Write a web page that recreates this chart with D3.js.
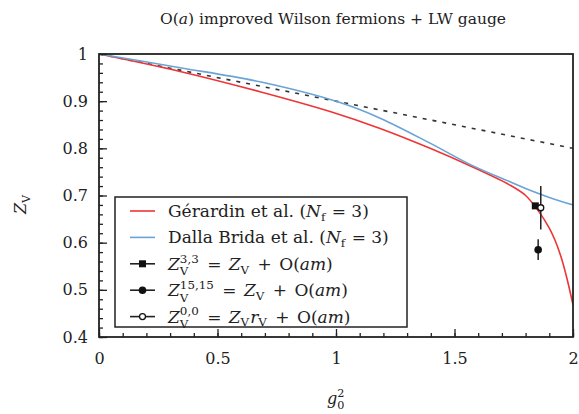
<!DOCTYPE html>
<html>
<head>
<meta charset="utf-8">
<script src="https://cdn.jsdelivr.net/npm/d3@7"></script>
<style>
  body { margin: 0; background: #fff; }
  svg text { font-family: "DejaVu Serif", "Liberation Serif", serif; fill: #222; white-space: pre; }
</style>
</head>
<body>
<div id="chart"></div>
<script>
// Gérardin et al. (red)
var redG = [0, 0.342, 0.679, 0.975, 1.186, 1.397, 1.565, 1.734, 1.8, 1.85, 1.9, 1.925, 1.95, 1.975, 2.0];
var redZ = [1, 0.963, 0.920, 0.878, 0.842, 0.800, 0.763, 0.722, 0.700, 0.670, 0.631, 0.604, 0.569, 0.523, 0.468];
// Dalla Brida et al. (blue)
var blueG = [0, 0.342, 0.679, 1.017, 1.186, 1.397, 1.565, 1.734, 1.8, 1.9, 2.0];
var blueZ = [1, 0.971, 0.941, 0.897, 0.864, 0.811, 0.766, 0.729, 0.715, 0.696, 0.680];
// one-loop (dashed)
var dashG = [0, 2];
var dashZ = [1, 0.8];
// data points
var ptNames = ["Z33", "Z1515", "Z00"];
var ptG = [1.841, 1.853, 1.864];
var ptZ = [0.678, 0.585, 0.674];
var ptErr = [0.004, 0.022, 0.046];

var xTicks = [0, 0.5, 1, 1.5, 2];
var yTicks = [0.4, 0.5, 0.6, 0.7, 0.8, 0.9, 1];

var W = 579, H = 414;
var margin = {top: 54, right: 6, bottom: 77, left: 99};
var width = W - margin.left - margin.right,
    height = H - margin.top - margin.bottom;
var FONT = "DejaVu Serif, Liberation Serif, serif";

var svg = d3.select("#chart").append("svg")
  .attr("width", W).attr("height", H).attr("font-family", FONT);

var x = d3.scaleLinear().domain([0, 2]).range([margin.left, margin.left + width]);
var y = d3.scaleLinear().domain([0.4, 1]).range([margin.top + height, margin.top]);

// title
svg.append("text").attr("x", 333).attr("y", 24).attr("text-anchor", "middle")
  .style("font-size", "15.5px")
  .call(function(t) {
    t.append("tspan").text("O(");
    t.append("tspan").style("font-style", "italic").text("a");
    t.append("tspan").text(") improved Wilson fermions + LW gauge");
  });

svg.append("clipPath").attr("id", "clip").append("rect")
  .attr("x", margin.left).attr("y", margin.top).attr("width", width).attr("height", height);

var plot = svg.append("g").attr("clip-path", "url(#clip)");

var line = d3.line().x(function(d) { return x(d[0]); }).y(function(d) { return y(d[1]); })
  .curve(d3.curveCatmullRom.alpha(0.5));

plot.append("path").datum(d3.zip(dashG, dashZ))
  .attr("fill", "none").attr("stroke", "#333").attr("stroke-width", 1.6)
  .attr("stroke-dasharray", "4,6").attr("d", line);
plot.append("path").datum(d3.zip(redG, redZ))
  .attr("fill", "none").attr("stroke", "#ee3535").attr("stroke-width", 1.6).attr("d", line);
plot.append("path").datum(d3.zip(blueG, blueZ))
  .attr("fill", "none").attr("stroke", "#6aa3d5").attr("stroke-width", 1.6).attr("d", line);

// error bars and markers
var pts = d3.range(ptG.length).map(function(i) {
  return {name: ptNames[i], g: ptG[i], z: ptZ[i], e: ptErr[i]};
});
plot.selectAll(".err").data(pts).enter().append("line")
  .attr("x1", function(d) { return x(d.g); }).attr("x2", function(d) { return x(d.g); })
  .attr("y1", function(d) { return y(d.z - d.e); }).attr("y2", function(d) { return y(d.z + d.e); })
  .attr("stroke", "#222").attr("stroke-width", 1.5);

function marker(g, name, cx, cy) {
  if (name === "Z33") {
    g.append("rect").attr("x", cx - 3.5).attr("y", cy - 3.5).attr("width", 7).attr("height", 7).attr("fill", "#111");
  } else if (name === "Z1515") {
    g.append("circle").attr("cx", cx).attr("cy", cy).attr("r", 3.8).attr("fill", "#111");
  } else {
    g.append("circle").attr("cx", cx).attr("cy", cy).attr("r", 3).attr("fill", "#fff")
      .attr("stroke", "#111").attr("stroke-width", 1.3);
  }
}
pts.forEach(function(d) { marker(plot, d.name, x(d.g), y(d.z)); });

// axes
svg.append("g").attr("transform", "translate(0," + (margin.top + height) + ")")
  .call(d3.axisBottom(x).tickValues(xTicks).tickSize(-8).tickPadding(16)
    .tickFormat(function(d) { return String(d); }));
svg.append("g").attr("transform", "translate(0," + (margin.top + height) + ")")
  .call(d3.axisBottom(x).tickValues(d3.range(0, 2.0001, 0.1)).tickSize(-4).tickFormat(""));
svg.append("g").attr("transform", "translate(" + margin.left + ",0)")
  .call(d3.axisLeft(y).tickValues(yTicks).tickSize(-8).tickPadding(11)
    .tickFormat(function(d) { return d === 1 ? "1" : d.toFixed(1); }));
svg.append("g").attr("transform", "translate(" + margin.left + ",0)")
  .call(d3.axisLeft(y).tickValues(d3.range(0.4, 1.0001, 0.02)).tickSize(-4).tickFormat(""));

svg.selectAll(".domain").remove();
svg.selectAll("g").filter(function() { return this.hasAttribute("font-family"); }).attr("font-family", FONT);
svg.selectAll(".tick line").attr("stroke", "#222").attr("stroke-width", 1.3);
svg.selectAll(".tick text").style("font-size", "16px").attr("fill", "#222");

svg.append("rect").attr("x", margin.left).attr("y", margin.top)
  .attr("width", width).attr("height", height)
  .attr("fill", "none").attr("stroke", "#222").attr("stroke-width", 1.8);

// math-like text helper
function mathRow(g, x0, y0, segs, fs) {
  var cx = x0;
  segs.forEach(function(s) {
    if (s.sp !== undefined) {
      cx += s.sp;
    } else if (s.sup !== undefined || s.sub !== undefined) {
      var w = 0;
      if (s.sup !== undefined) {
        var a = g.append("text").attr("x", cx).attr("y", y0 - fs * 0.42)
          .style("font-size", (fs * 0.7) + "px").text(s.sup);
        w = Math.max(w, a.node().getComputedTextLength());
      }
      if (s.sub !== undefined) {
        var b = g.append("text").attr("x", cx).attr("y", y0 + fs * (s.sup !== undefined ? 0.32 : 0.22))
          .style("font-size", (fs * 0.7) + "px").text(s.sub);
        w = Math.max(w, b.node().getComputedTextLength());
      }
      cx += w + 1;
    } else {
      var t = g.append("text").attr("x", cx).attr("y", y0).style("font-size", fs + "px")
        .style("font-style", s.i ? "italic" : "normal").text(s.t);
      cx += t.node().getComputedTextLength();
    }
  });
  return cx;
}

// y and x labels
var yl = svg.append("g").attr("transform", "translate(26,206) rotate(-90)");
mathRow(yl, -8, 0, [{t: "Z", i: true}, {sub: "V"}], 16);
var xl = svg.append("g");
mathRow(xl, 327, 404, [{t: "g", i: true}, {sup: "2", sub: "0"}], 16);

// legend
var leg = svg.append("g");
leg.append("rect").attr("x", 115).attr("y", 197).attr("width", 292).attr("height", 130)
  .attr("fill", "#fff").attr("stroke", "#222").attr("stroke-width", 1.5);

var EQ = [{sp: 2}, {t: " = "}, {sp: 2}], PLUS = [{sp: 2}, {t: " + "}, {sp: 2}];
var legendRows = [
  {kind: "red", segs: [{t: "Gérardin et al. ("}, {t: "N", i: true}, {sub: "f"}, {t: " = 3)"}]},
  {kind: "blue", segs: [{t: "Dalla Brida et al. ("}, {t: "N", i: true}, {sub: "f"}, {t: " = 3)"}]},
  {kind: "Z33", segs: [{t: "Z", i: true}, {sup: "3,3", sub: "V"}].concat(EQ, [{t: "Z", i: true}, {sub: "V"}], PLUS, [{t: "O("}, {t: "am", i: true}, {t: ")"}])},
  {kind: "Z1515", segs: [{t: "Z", i: true}, {sup: "15,15", sub: "V"}].concat(EQ, [{t: "Z", i: true}, {sub: "V"}], PLUS, [{t: "O("}, {t: "am", i: true}, {t: ")"}])},
  {kind: "Z00", segs: [{t: "Z", i: true}, {sup: "0,0", sub: "V"}].concat(EQ, [{t: "Z", i: true}, {sub: "V"}, {t: "r", i: true}, {sub: "V"}], PLUS, [{t: "O("}, {t: "am", i: true}, {t: ")"}])}
];
legendRows.forEach(function(r, i) {
  var ly = 211 + i * 26.4;
  var col = r.kind === "red" ? "#ee3535" : r.kind === "blue" ? "#6aa3d5" : "#222";
  leg.append("line").attr("x1", 130).attr("x2", 155).attr("y1", ly).attr("y2", ly)
    .attr("stroke", col).attr("stroke-width", 1.6);
  if (r.kind !== "red" && r.kind !== "blue") marker(leg, r.kind, 142.5, ly);
  mathRow(leg, 168, ly + 6, r.segs, 17);
});
</script>
</body>
</html>
